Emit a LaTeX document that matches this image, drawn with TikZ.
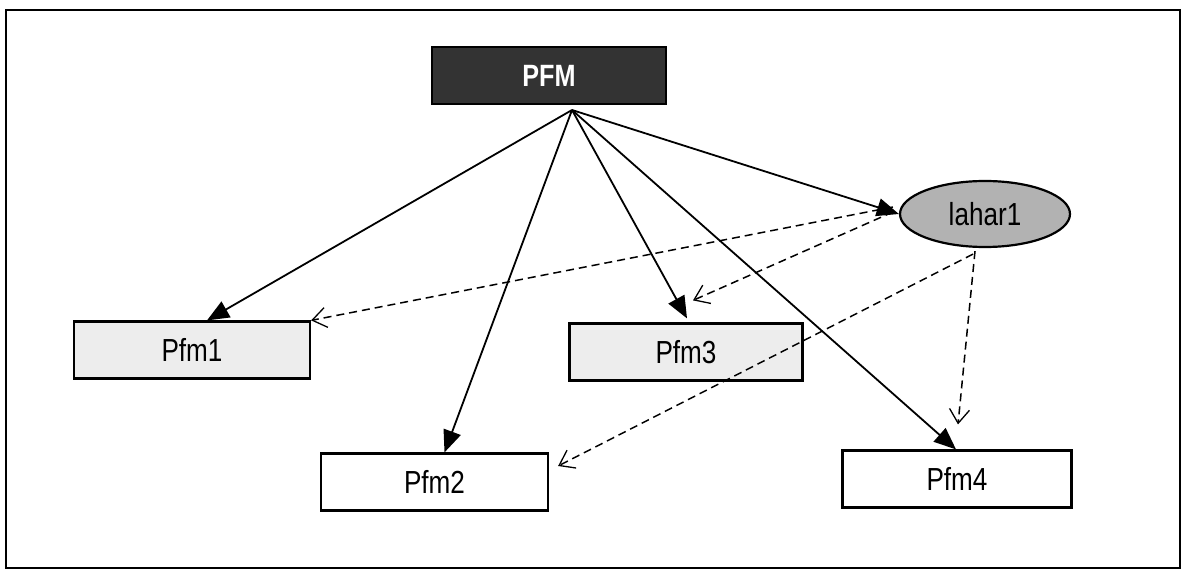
\documentclass[tikz,border=0pt]{standalone}
\usepackage{fontspec}
\setmainfont{Liberation Sans}
\usetikzlibrary{arrows.meta,calc,shapes.geometric}
\begin{document}
\begin{tikzpicture}[x=1pt,y=-1pt,
  lbl/.style={font=\fontsize{29}{29}\selectfont},
  box/.style={draw=black,line width=2.2pt,rectangle,minimum width=#1,minimum height=57pt,inner sep=0pt,lbl},
  solidarrow/.style={line width=1.8pt,-{Triangle[length=22pt,width=18pt]}},
  dasharrow/.style={line width=1.5pt,dash pattern=on 8pt off 5pt,-{Straight Barb[length=14pt,width=20pt,line width=1.3pt]}}]
\useasboundingbox (0,0) rectangle (1183,569);
\draw[line width=2.2pt] (6,10) rectangle (1180,568);
\node[box=234pt,fill=black!80,text=white,font=\fontsize{28}{28}\bfseries\selectfont] (PFM) at (549,75.5) {\scalebox{0.9}[1.1]{PFM}};
\node[box=236pt,fill=black!7] (Pfm1) at (192,350) {\scalebox{0.9}[1.1]{Pfm1}};
\node[box=233pt,fill=black!7] (Pfm3) at (686,352) {\scalebox{0.9}[1.1]{Pfm3}};
\node[box=227pt,fill=white] (Pfm2) at (434.5,482) {\scalebox{0.9}[1.1]{Pfm2}};
\node[box=229pt,fill=white] (Pfm4) at (957,479) {\scalebox{0.9}[1.1]{Pfm4}};
\node[ellipse,draw=black,line width=2.2pt,fill=black!30,minimum width=170pt,minimum height=66pt,inner sep=0pt,lbl] (lahar1) at (985,214) {\scalebox{0.9}[1.1]{lahar1}};
\coordinate (hub) at (572,110);
\draw[solidarrow] (hub) -- ($(Pfm1.north)+(15,0)$);
\draw[solidarrow] (hub) -- ($(Pfm2.north)+(10,0)$);
\draw[solidarrow] (hub) -- ($(Pfm3.north)+(1,-4)$);
\draw[solidarrow] (hub) -- ($(Pfm4.north)+(-1,0)$);
\draw[solidarrow] (hub) -- (lahar1.west);
\draw[dasharrow] ($(lahar1.west)+(-6,-7)$) -- (Pfm1.north east);
\draw[dasharrow] ($(lahar1.west)+(-6,-2)$) -- ($(Pfm3.north)+(7,-22)$);
\draw[dasharrow] ($(lahar1.south)+(-12,6)$) -- ($(Pfm2.east)+(9,-16)$);
\draw[dasharrow] ($(lahar1.south)+(-10,3)$) -- ($(Pfm4.north)+(1,-25)$);
\end{tikzpicture}
\end{document}
